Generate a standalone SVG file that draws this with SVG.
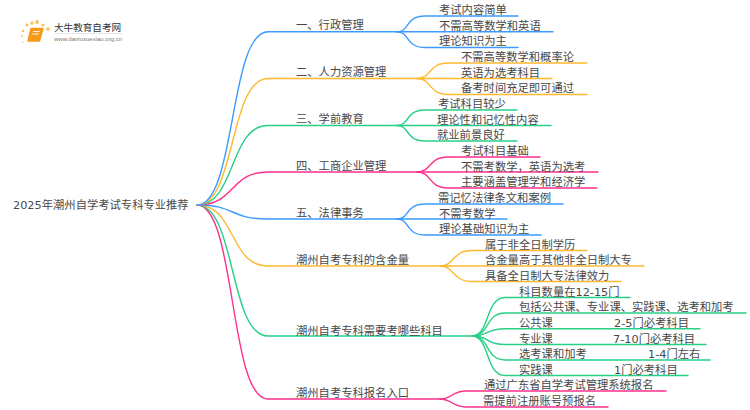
<svg xmlns="http://www.w3.org/2000/svg" width="750" height="410" viewBox="0 0 750 410">
<style>
text{font-family:"DejaVu Sans","Noto Sans CJK SC",sans-serif;font-size:11.3px;fill:#484848}
path{fill:none;stroke-width:1.4;stroke-linecap:round}
.b{stroke:#3d9bff}.o{stroke:#ffb92e}.g{stroke:#28cf87}.p{stroke:#ff2f8c}
</style>
<rect width="750" height="410" fill="#fff"/>
<g id="connectors">
<g class="p"><path d="M197 205C236 205 229 399 268 399H440"/><path d="M440 399C452 399 452 391 466 391H666"/><path d="M440 399C452 399 452 407 466 407H608"/></g>
<g class="g"><path d="M197 205C236 205 229 336 268 336H472"/>
<path d="M472 336C490 336 485 297.500 505 297.500H630"/><path d="M472 336C490 336 485 313 505 313H746"/><path d="M472 336C490 336 485 328.700 505 328.700H700"/><path d="M472 336C490 336 485 344.500 505 344.500H706"/><path d="M472 336C490 336 485 360 505 360H710"/><path d="M472 336C490 336 485 375.500 505 375.500H688"/></g>
<g class="o"><path d="M197 205C236 205 229 266 268 266H440"/><path d="M440 266C455 266 452 250.500 472 250.500H587"/><path d="M440 266H644"/><path d="M440 266C455 266 452 281.500 472 281.500H621"/></g>
<g class="b"><path d="M197 205C236 205 229 219 268 219H397"/><path d="M397 219C410 219 405 204 425 204H563"/><path d="M397 219H507"/><path d="M397 219C410 219 405 235 425 235H541"/></g>
<g class="p"><path d="M197 205C236 205 229 172 268 172H417"/><path d="M417 172C432 172 428 157 448 157H540"/><path d="M417 172H598"/><path d="M417 172C432 172 428 188 448 188H597"/></g>
<g class="g"><path d="M197 205C236 205 229 125.500 268 125.500H397"/><path d="M397 125.500C410 125.500 405 110 425 110H517"/><path d="M397 125.500H551"/><path d="M397 125.500C410 125.500 405 141 425 141H517"/></g>
<g class="o"><path d="M197 205C236 205 229 78.500 268 78.500H417"/><path d="M417 78.500C432 78.500 428 63 448 63H587"/><path d="M417 78.500H552"/><path d="M417 78.500C432 78.500 428 94.500 448 94.500H587"/></g>
<g class="b"><path d="M197 205C236 205 229 31.700 268 31.700H397"/><path d="M397 31.700C410 31.700 405 16 425 16H518"/><path d="M397 31.700H553"/><path d="M397 31.700C410 31.700 405 47.500 425 47.500H518"/></g>
</g>
<g id="logo">
<g fill="#fbc25a"><circle cx="37" cy="22" r="1.900"/><circle cx="32" cy="23" r="1.700"/><circle cx="27" cy="25" r="1.400"/><circle cx="43" cy="25" r="1.600"/><circle cx="48" cy="29" r="1.800"/><circle cx="23" cy="31" r="1.300"/><circle cx="22" cy="36" r="1.100"/><circle cx="23" cy="42" r="0.900" opacity=".5"/></g>
<path d="M31 28.500H43L39.500 41H28Z" style="fill:#f59a1b;stroke:#f59a1b;stroke-linejoin:round"/>
<path d="M33.500 31.500H39.500M32.500 34H38.500" style="stroke:#fff3d6;stroke-width:1"/>
<text x="54" y="30.500" style="font-size:9.600px;fill:#333">大牛教育自考网</text>
<path d="M54 33.500H122" style="stroke:#ccc;stroke-width:.5"/>
<text x="54" y="41" textLength="68" style="font-family:'Liberation Sans',sans-serif;font-size:6px;fill:#777">www.daniuxuexiao.org.cn</text>
</g>
<g id="root"><text x="13" y="209">2025年潮州自学考试专科专业推荐</text></g>
<g id="n1"><text x="296" y="29">一、行政管理</text><text x="439" y="14">考试内容简单</text><text x="439" y="29.500">不需高等数学和英语</text><text x="439" y="45">理论知识为主</text></g>
<g id="n2"><text x="296" y="76">二、人力资源管理</text><text x="461" y="61">不需高等数学和概率论</text><text x="461" y="76.500">英语为选考科目</text><text x="461" y="92">备考时间充足即可通过</text></g>
<g id="n3"><text x="296" y="123">三、学前教育</text><text x="438" y="108">考试科目较少</text><text x="437" y="123.500">理论性和记忆性内容</text><text x="437" y="139">就业前景良好</text></g>
<g id="n4"><text x="296" y="170">四、工商企业管理</text><text x="461" y="155">考试科目基础</text><text x="461" y="170.500">不需考数学，英语为选考</text><text x="461" y="186">主要涵盖管理学和经济学</text></g>
<g id="n5"><text x="296" y="217">五、法律事务</text><text x="438" y="202">需记忆法律条文和案例</text><text x="439" y="217.500">不需考数学</text><text x="439" y="233">理论基础知识为主</text></g>
<g id="n6"><text x="296" y="264">潮州自考专科的含金量</text><text x="485" y="248.500">属于非全日制学历</text><text x="485" y="264">含金量高于其他非全日制大专</text><text x="485" y="280">具备全日制大专法律效力</text></g>
<g id="n7"><text x="296" y="335">潮州自考专科需要考哪些科目</text><text x="519" y="295.500">科目数量在12-15门</text><text x="519" y="311">包括公共课、专业课、实践课、选考和加考</text><text x="519" y="326.500">公共课<tspan x="614">2-5门必考科目</tspan></text><text x="519" y="342.500">专业课<tspan x="613">7-10门必考科目</tspan></text><text x="519" y="358">选考课和加考<tspan x="648">1-4门左右</tspan></text><text x="519" y="373.500">实践课<tspan x="614">1门必考科目</tspan></text></g>
<g id="n8"><text x="296" y="397">潮州自考专科报名入口</text><text x="484" y="389">通过广东省自学考试管理系统报名</text><text x="483" y="405">需提前注册账号预报名</text></g>
</svg>
